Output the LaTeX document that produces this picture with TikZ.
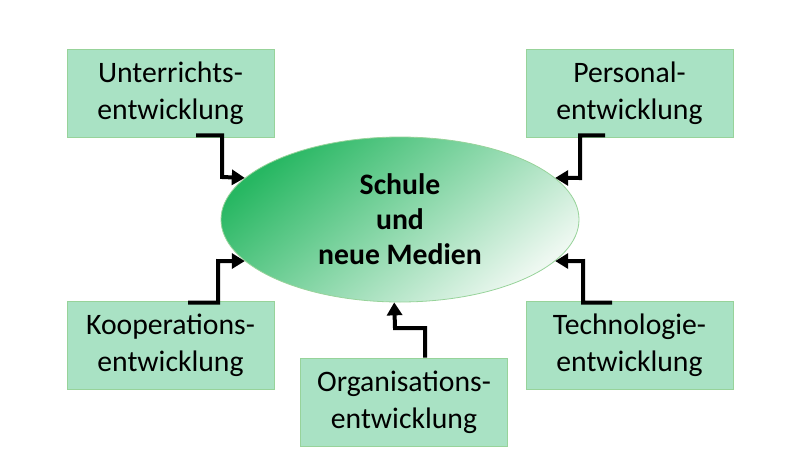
\documentclass[tikz,border=0pt]{standalone}
\usepackage{fontspec}
\setmainfont{Carlito}
\usetikzlibrary{arrows.meta,shapes.geometric}

\definecolor{boxfill}{HTML}{A9E2C4}
\definecolor{boxline}{HTML}{97D39A}
\definecolor{topgreen}{HTML}{27B762}
\definecolor{lowgreen}{HTML}{EEF8F1}

\begin{document}
\begin{tikzpicture}[x=1pt, y=-1pt]
			\tikzstyle{area}  = [rectangle, minimum width=207pt, minimum height=88pt, inner sep=0pt, draw=boxline, line width=0.8pt, fill=boxfill, align=center, font=\fontsize{29.7}{37}\selectfont]
			\tikzstyle{centre} = [ellipse, minimum width=358pt, minimum height=165pt, inner sep=0pt, draw=boxline, line width=0.8pt, top color=topgreen, bottom color=lowgreen, shading angle=40, align=center, font=\fontsize{29.7}{35}\selectfont\bfseries]
			\tikzstyle{link} = [line width=4pt, -{Triangle[length=13pt, width=15pt]}]

			\useasboundingbox (0, 0) rectangle (800, 450);

			\node[centre] (sm) at (400, 219.5) {Schule\\und\\neue Medien};

			\foreach \name/\x/\y/\text in {unt/170.5/93/Unterrichts-\\entwicklung, per/629.5/93/Personal-\\entwicklung, koo/170.5/345/Kooperations-\\entwicklung, tec/629.5/345/Technologie-\\entwicklung, org/404/402/Organisations-\\entwicklung}
				\node[area] (\name) at (\x, \y) {\text};

			% stepped arrows into the ellipse
			\draw[link] ([shift={(25.5pt, 2pt)}]unt.south) -| (222, 177) -- (sm.165);
			\draw[link] ([shift={(-24.5pt, 2pt)}]per.south) -| (580, 178) -- (sm.15);
			\draw[link] ([shift={(17.5pt, -2pt)}]koo.north) -| (218, 261) -- (sm.195);
			\draw[link] ([shift={(-17.5pt, -2pt)}]tec.north) -| (583, 261) -- (sm.345);
			\draw[link] ([xshift=21pt]org.north) |- (395, 328) -- (sm.266);

		\end{tikzpicture}
\end{document}
